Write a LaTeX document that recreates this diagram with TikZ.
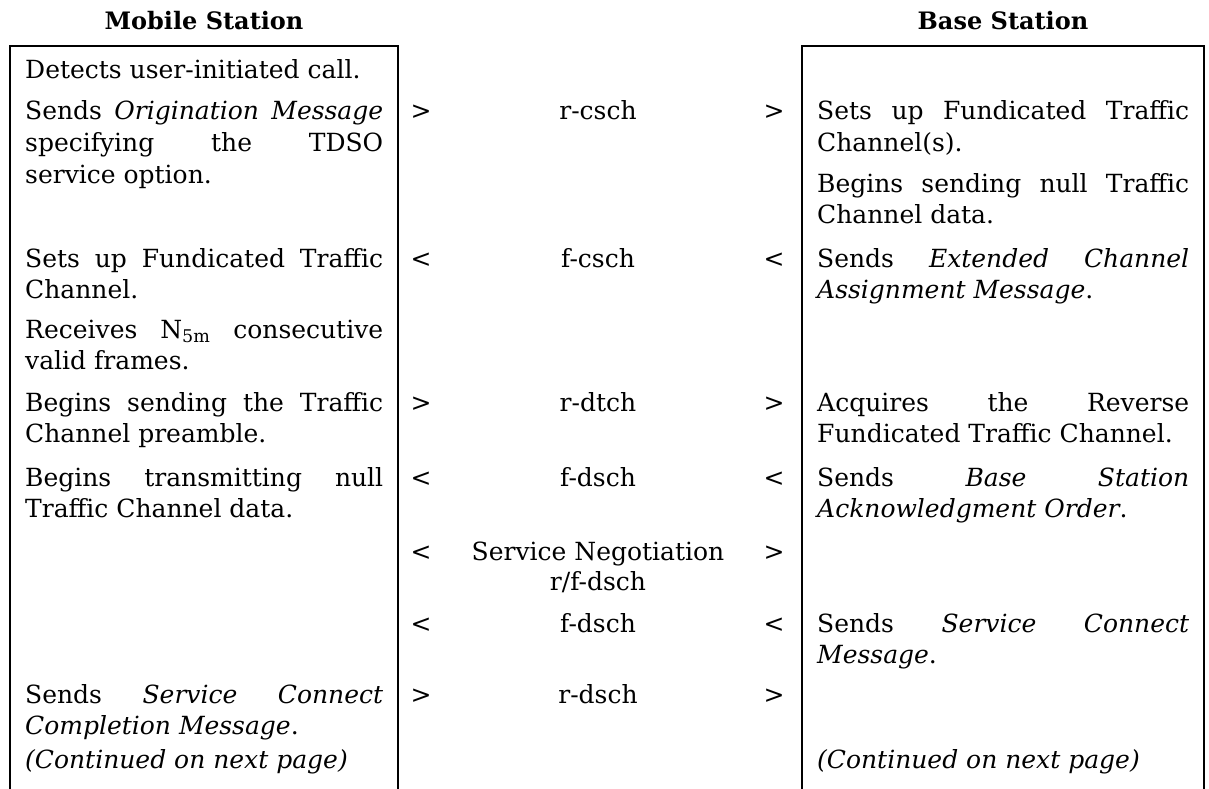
\documentclass[tikz,border=0pt]{standalone}
\usepackage{fontspec}
\setmainfont{DejaVu Serif}
\hyphenpenalty=10000
\exhyphenpenalty=10000
\tolerance=10000
\begin{document}
\begin{tikzpicture}[x=1pt, y=-1pt,
    font=\fontsize{25}{31.5}\selectfont,
    head/.style={anchor=base, inner sep=0pt, font=\fontsize{24}{30}\selectfont\bfseries},
    lcell/.style={anchor=base west, inner sep=0pt, text width=358pt, align=justify},
    rcell/.style={lcell, text width=372pt},
    mid/.style={anchor=base, inner sep=0pt}]
  \useasboundingbox (0, 0) rectangle (1209, 789);
  \draw[line width=2.5pt] (10, 789) |- (398, 46) -- (398, 789)
                          (802, 789) |- (1204, 46) -- (1204, 789);
  \node (mshead) [head] at (204, 30) {Mobile Station};
  \node (bshead) [head] at (1003, 30) {Base Station};
  \node (ms1) [lcell] at (25, 79) {Detects user-initiated call.};
  \node (ms2) [lcell] at (25, 120) {Sends \textit{Origination Message}\linebreak specifying the TDSO\linebreak service option.};
  \node (ms3) [lcell] at (25, 267) {Sets up Fundicated Traffic\linebreak Channel.};
  \node (ms4) [lcell] at (25, 338) {Receives N\textsubscript{5m} consecutive\linebreak valid frames.};
  \node (ms5) [lcell] at (25, 411) {Begins sending the Traffic\linebreak Channel preamble.};
  \node (ms6) [lcell] at (25, 486) {Begins transmitting null\linebreak Traffic Channel data.};
  \node (ms7) [lcell] at (25, 703) {Sends \textit{Service Connect}\linebreak \textit{Completion Message}.};
  \node (ms8) [lcell] at (25, 768) {\textit{(Continued on next page)}};
  \node (bs1) [rcell] at (817, 120) {Sets up Fundicated Traffic\linebreak Channel(s).};
  \node (bs2) [rcell] at (817, 192) {Begins sending null Traffic\linebreak Channel data.};
  \node (bs3) [rcell] at (817, 267) {Sends \textit{Extended Channel}\linebreak \textit{Assignment Message}.};
  \node (bs4) [rcell] at (817, 411) {Acquires the Reverse\linebreak Fundicated~Traffic~Channel.};
  \node (bs5) [rcell] at (817, 486) {Sends \textit{Base Station}\linebreak \textit{Acknowledgment Order}.};
  \node (bs6) [rcell] at (817, 632) {Sends \textit{Service Connect}\linebreak \textit{Message}.};
  \node (bs7) [rcell] at (817, 768) {\textit{(Continued on next page)}};
  \foreach \y/\a/\ch/\b [count=\n] in {120/>/r-csch/>, 267/</f-csch/<, 411/>/r-dtch/>,
      486/</f-dsch/<, 560/</Service Negotiation/>, 632/</f-dsch/<, 703/>/r-dsch/>}
    \draw (421, \y) node (al\n) [mid] {\a}
          (598, \y) node (ch\n) [mid] {\ch}
          (774, \y) node (ar\n) [mid] {\b};
  \node (chsub) [mid] at (598, 590) {r/f-dsch};
\end{tikzpicture}
\end{document}
